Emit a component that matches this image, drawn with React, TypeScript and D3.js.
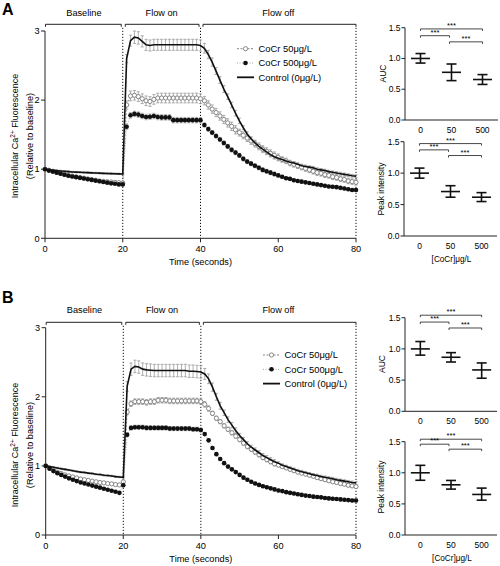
import React from 'react';
import * as d3 from 'd3';

// ---------- DATA ----------
const time = [
  0, 1, 2, 3, 4, 5, 6, 7, 8, 9, 10, 11, 12, 13, 14, 15, 16, 17, 18, 19,
  20, 21, 22, 23, 24, 25, 26, 27, 28, 29, 30, 31, 32, 33, 34, 35, 36, 37, 38, 39,
  40, 41, 42, 43, 44, 45, 46, 47, 48, 49, 50, 51, 52, 53, 54, 55, 56, 57, 58, 59,
  60, 61, 62, 63, 64, 65, 66, 67, 68, 69, 70, 71, 72, 73, 74, 75, 76, 77, 78, 79, 80,
];

const phases = [
  { label: 'Baseline', start: 0, end: 20 },
  { label: 'Flow on', start: 20, end: 40 },
  { label: 'Flow off', start: 40, end: 80 },
];
const phaseLines = [20, 40, 80];
const mainXTicks = [0, 20, 40, 60, 80];
const mainYTicks = [0, 1, 2, 3];
const barYTicks = [0, 0.5, 1, 1.5];
const categories = ['0', '50', '500'];
const seriesNames = ['CoCr 50\u03bcg/L', 'CoCr 500\u03bcg/L', 'Control (0\u03bcg/L)'];
const summaryXTitle = '[CoCr]\u03bcg/L';

// Panel A
const controlA = [
  1.0, 0.99, 0.985, 0.98, 0.975, 0.97, 0.965, 0.96, 0.958, 0.955,
  0.952, 0.95, 0.947, 0.945, 0.943, 0.94, 0.938, 0.936, 0.934, 0.932,
  0.93, 2.6, 2.86, 2.91, 2.9, 2.85, 2.8, 2.79, 2.8, 2.8,
  2.8, 2.8, 2.8, 2.8, 2.8, 2.8, 2.8, 2.8, 2.8, 2.8,
  2.79, 2.75, 2.66, 2.55, 2.42, 2.29, 2.16, 2.05, 1.93, 1.81,
  1.7, 1.6, 1.51, 1.44, 1.38, 1.33, 1.29, 1.25, 1.21, 1.18,
  1.16, 1.14, 1.12, 1.1, 1.09, 1.07, 1.05, 1.04, 1.03, 1.02,
  1.0, 0.99, 0.98, 0.965, 0.955, 0.945, 0.935, 0.925, 0.915, 0.905,
  0.9,
];
const cocr50A = [
  1.0, 0.985, 0.97, 0.955, 0.94, 0.925, 0.91, 0.9, 0.89, 0.88,
  0.87, 0.86, 0.85, 0.84, 0.83, 0.825, 0.82, 0.815, 0.81, 0.805,
  0.8, 1.93, 2.06, 2.07, 2.05, 2.02, 1.99, 1.98, 2.01, 2.03,
  2.03, 2.03, 2.03, 2.03, 2.03, 2.03, 2.03, 2.03, 2.03, 2.03,
  2.02, 1.99, 1.93, 1.87, 1.82, 1.77, 1.72, 1.67, 1.62, 1.57,
  1.53, 1.49, 1.45, 1.41, 1.37, 1.33, 1.29, 1.26, 1.23, 1.2,
  1.17, 1.14, 1.12, 1.09, 1.07, 1.05, 1.03, 1.01, 0.99, 0.97,
  0.95, 0.94, 0.92, 0.91, 0.89, 0.88, 0.86, 0.85, 0.83, 0.82,
  0.81,
];
const cocr500A = [
  1.0, 0.98, 0.965, 0.95, 0.935, 0.92, 0.905, 0.895, 0.885, 0.875,
  0.865, 0.855, 0.845, 0.835, 0.825, 0.815, 0.805, 0.795, 0.79, 0.78,
  0.78, 1.615, 1.78, 1.8, 1.79, 1.77, 1.755, 1.76, 1.77, 1.755,
  1.75, 1.75, 1.75, 1.71, 1.71, 1.71, 1.71, 1.71, 1.71, 1.71,
  1.71, 1.64, 1.58, 1.53, 1.48, 1.43, 1.38, 1.33, 1.28, 1.24,
  1.2, 1.15, 1.11, 1.08, 1.05, 1.02, 0.99, 0.97, 0.95, 0.93,
  0.91, 0.89, 0.87, 0.86, 0.84, 0.83, 0.82, 0.81, 0.8, 0.79,
  0.78, 0.77, 0.76, 0.75, 0.745, 0.74, 0.73, 0.72, 0.71, 0.7,
  0.7,
];
const errControlA = [
  0, .01, .01, .01, .01, .01, .01, .01, .01, .01,
  .01, .01, .01, .01, .01, .01, .01, .01, .01, .01,
  .01, .06, .08, .09, .09, .08, .08, .08, .08, .08,
  .08, .08, .08, .08, .08, .08, .08, .08, .08, .08,
  .08, .07, .06, .06, .05, .05, .05, .04, .04, .04,
  .04, .03, .03, .03, .03, .03, .03, .03, .03, .03,
  .03, .02, .02, .02, .02, .02, .02, .02, .02, .02,
  .02, .02, .02, .02, .02, .02, .02, .02, .02, .02,
  .02,
];
const err50A = [
  0, .01, .01, .01, .01, .01, .01, .01, .01, .01,
  .01, .01, .01, .01, .01, .01, .01, .01, .01, .01,
  .02, .06, .07, .07, .07, .07, .07, .07, .07, .07,
  .07, .07, .07, .07, .07, .07, .07, .07, .07, .07,
  .07, .06, .06, .06, .06, .06, .06, .06, .06, .06,
  .05, .05, .05, .05, .05, .05, .05, .05, .05, .05,
  .05, .04, .04, .04, .04, .04, .04, .04, .04, .04,
  .04, .04, .04, .04, .04, .04, .04, .04, .04, .04,
  .04,
];
const err500A = [
  0, .01, .01, .01, .01, .01, .01, .01, .01, .01,
  .01, .01, .01, .01, .01, .01, .01, .01, .01, .01,
  .02, .04, .04, .04, .04, .04, .04, .04, .04, .04,
  .04, .04, .04, .04, .04, .04, .04, .04, .04, .04,
  .04, .03, .03, .03, .03, .03, .03, .03, .03, .03,
  .03, .03, .03, .03, .03, .03, .03, .03, .03, .03,
  .02, .02, .02, .02, .02, .02, .02, .02, .02, .02,
  .02, .02, .02, .02, .02, .02, .02, .02, .02, .02,
  .02,
];

// Panel B
const controlB = [
  1.0, 0.99, 0.98, 0.97, 0.96, 0.95, 0.94, 0.93, 0.92, 0.91,
  0.905, 0.895, 0.89, 0.88, 0.875, 0.865, 0.86, 0.855, 0.845, 0.84,
  0.835, 2.15, 2.4, 2.44, 2.43, 2.4, 2.39, 2.385, 2.38, 2.38,
  2.38, 2.38, 2.38, 2.38, 2.38, 2.38, 2.38, 2.37, 2.37, 2.365,
  2.36, 2.33, 2.26, 2.14, 2.0, 1.87, 1.77, 1.67, 1.59, 1.51,
  1.44, 1.38, 1.32, 1.27, 1.23, 1.19, 1.15, 1.12, 1.09, 1.06,
  1.04, 1.01, 0.99, 0.97, 0.95, 0.93, 0.915, 0.9, 0.885, 0.87,
  0.86, 0.845, 0.835, 0.825, 0.815, 0.8, 0.79, 0.78, 0.77, 0.76,
  0.755,
];
const cocr50B = [
  1.0, 0.965, 0.935, 0.91, 0.89, 0.87, 0.855, 0.84, 0.825, 0.81,
  0.8, 0.79, 0.78, 0.77, 0.76, 0.755, 0.745, 0.74, 0.73, 0.725,
  0.77, 1.78, 1.9, 1.93, 1.93, 1.93, 1.92, 1.93, 1.93, 1.95,
  1.95, 1.95, 1.94, 1.94, 1.94, 1.94, 1.94, 1.94, 1.94, 1.94,
  1.93, 1.89, 1.83, 1.76, 1.69, 1.64, 1.58, 1.53, 1.48, 1.43,
  1.38, 1.33, 1.28, 1.24, 1.2, 1.16, 1.12, 1.09, 1.06, 1.03,
  1.01, 0.99, 0.97, 0.95, 0.93, 0.91, 0.895, 0.88, 0.865, 0.85,
  0.83, 0.815, 0.8, 0.785, 0.77, 0.76, 0.745, 0.735, 0.72, 0.71,
  0.7,
];
const cocr500B = [
  1.0, 0.96, 0.925, 0.895, 0.87, 0.845, 0.82, 0.8, 0.78, 0.76,
  0.745, 0.73, 0.715, 0.7, 0.685, 0.67, 0.655, 0.64, 0.625, 0.61,
  0.72, 1.45, 1.55, 1.56, 1.56, 1.56, 1.55, 1.55, 1.55, 1.55,
  1.55, 1.55, 1.54, 1.54, 1.54, 1.54, 1.54, 1.54, 1.53, 1.53,
  1.52, 1.46, 1.37, 1.26, 1.17, 1.1, 1.04, 0.99, 0.95, 0.91,
  0.87, 0.83, 0.8, 0.77, 0.745, 0.725, 0.705, 0.69, 0.675, 0.66,
  0.645, 0.635, 0.62, 0.61, 0.6, 0.59, 0.58, 0.57, 0.565, 0.555,
  0.55, 0.545, 0.535, 0.53, 0.525, 0.52, 0.515, 0.51, 0.505, 0.5,
  0.5,
];
const errControlB = [
  0, .01, .01, .01, .01, .01, .01, .01, .01, .01,
  .01, .01, .01, .01, .01, .01, .01, .01, .01, .01,
  .01, .07, .09, .09, .09, .09, .09, .09, .09, .09,
  .09, .09, .09, .09, .09, .09, .09, .09, .09, .09,
  .09, .08, .07, .06, .05, .05, .04, .04, .04, .04,
  .03, .03, .03, .03, .03, .03, .03, .03, .03, .03,
  .02, .02, .02, .02, .02, .02, .02, .02, .02, .02,
  .02, .02, .02, .02, .02, .02, .02, .02, .02, .02,
  .02,
];
const err50B = [
  0, .01, .01, .01, .01, .01, .01, .01, .01, .01,
  .01, .01, .01, .01, .01, .01, .01, .01, .01, .01,
  .02, .04, .04, .04, .04, .04, .04, .04, .04, .04,
  .04, .04, .04, .04, .04, .04, .04, .04, .04, .04,
  .04, .04, .04, .03, .03, .03, .03, .03, .03, .03,
  .03, .03, .03, .03, .03, .03, .03, .03, .03, .03,
  .02, .02, .02, .02, .02, .02, .02, .02, .02, .02,
  .02, .02, .02, .02, .02, .02, .02, .02, .02, .02,
  .02,
];
const err500B = [
  0, .01, .01, .01, .01, .01, .01, .01, .01, .01,
  .01, .01, .01, .01, .01, .01, .01, .01, .01, .01,
  .02, .03, .03, .03, .03, .03, .03, .03, .03, .03,
  .03, .03, .03, .03, .03, .03, .03, .03, .03, .03,
  .03, .02, .02, .02, .02, .02, .02, .02, .02, .02,
  .02, .02, .02, .02, .02, .02, .02, .02, .02, .02,
  .02, .02, .02, .02, .02, .02, .02, .02, .02, .02,
  .02, .02, .02, .02, .02, .02, .02, .02, .02, .02,
  .02,
];

// Summary panels: mean, lower and upper whisker
const aucAMean = [1.0, 0.775, 0.658];
const aucALow = [0.925, 0.64, 0.578];
const aucAHigh = [1.08, 0.91, 0.738];
const peakAMean = [1.0, 0.707, 0.617];
const peakALow = [0.92, 0.617, 0.548];
const peakAHigh = [1.08, 0.8, 0.69];
const aucBMean = [1.0, 0.866, 0.663];
const aucBLow = [0.9, 0.79, 0.53];
const aucBHigh = [1.118, 0.94, 0.775];
const peakBMean = [1.0, 0.807, 0.652];
const peakBLow = [0.88, 0.738, 0.56];
const peakBHigh = [1.12, 0.877, 0.754];
const sigLabels = ['***', '***', '***'];
// significance comparisons [from, to] and their levels in data units
const sigPairs = [[0, 2], [0, 1], [1, 2]];
const sigLevelsAucA = [1.48, 1.37, 1.27];
const sigLevelsPeakA = [1.47, 1.37, 1.28];
const sigLevelsAucB = [1.54, 1.43, 1.335];
const sigLevelsPeakB = [1.54, 1.46, 1.38];

// ---------- STYLE ----------
const FONT = "'Liberation Sans', Arial, Helvetica, sans-serif";
const AXIS = '#222';

type MainLayout = {
  label: string; labelY: number;
  x0: number; x1: number; yTop: number; yBottom: number;
  bracketY: number; headerY: number; titleCY: number;
  legendX: number; legendY: number;
};

function MainPanel({ L, ctrl, s50, s500, eCtrl, e50, e500 }: any) {
  const lay = L as MainLayout;
  const x = d3.scaleLinear().domain([0, 80]).range([lay.x0, lay.x1]);
  const y = d3.scaleLinear().domain([0, 3]).range([lay.yBottom, lay.yTop]);
  const line = d3.line<number>().x((_, i) => x(time[i])).y((d) => y(d));
  const errBars = (vals: number[], errs: number[], color: string, key: string) =>
    vals.map((v, i) => {
      const e = errs[i];
      if (!e) return null;
      const cx = x(time[i]);
      const y1 = y(v + e), y2 = y(v - e);
      return (
        <g key={key + i} stroke={color} strokeWidth={0.8}>
          <line x1={cx} x2={cx} y1={y1} y2={y2} />
          <line x1={cx - 1.6} x2={cx + 1.6} y1={y1} y2={y1} />
          <line x1={cx - 1.6} x2={cx + 1.6} y1={y2} y2={y2} />
        </g>
      );
    });
  const lx = lay.legendX, ly = lay.legendY, dyL = 14.3;
  return (
    <g>
      <text x={2} y={lay.labelY} fontFamily={FONT} fontWeight="bold" fontSize={16}>{lay.label}</text>
      {/* phase brackets */}
      {phases.map((p, i) => {
        const a = x(p.start) + (i === 0 ? 0.5 : 2.5);
        const b = p.end === 80 ? x(p.end) : x(p.end) - 1.5;
        return (
          <g key={p.label}>
            <path d={`M${a},${lay.bracketY + 2.5}V${lay.bracketY}H${b}V${lay.bracketY + 2.5}`}
              fill="none" stroke={AXIS} strokeWidth={1} />
            <text x={(x(p.start) + x(p.end)) / 2} y={lay.headerY} textAnchor="middle"
              fontFamily={FONT} fontSize={9.2}>{p.label}</text>
          </g>
        );
      })}
      {phaseLines.map((t) => (
        <line key={'pl' + t} x1={x(t)} x2={x(t)} y1={lay.bracketY + 3.5} y2={lay.yBottom}
          stroke="#111" strokeWidth={1} strokeDasharray="1.2,1.8" />
      ))}
      {/* axes */}
      <line x1={lay.x0} x2={lay.x0} y1={y(3)} y2={lay.yBottom} stroke={AXIS} strokeWidth={1} />
      <line x1={lay.x0} x2={lay.x1} y1={lay.yBottom} y2={lay.yBottom} stroke={AXIS} strokeWidth={1} />
      {mainYTicks.map((t) => (
        <g key={'yt' + t}>
          <line x1={lay.x0 - 4} x2={lay.x0} y1={y(t)} y2={y(t)} stroke={AXIS} />
          <text x={lay.x0 - 5.5} y={y(t)} dy="0.35em" textAnchor="end" fontFamily={FONT} fontSize={9.2}>{t}</text>
        </g>
      ))}
      {mainXTicks.map((t) => (
        <g key={'xt' + t}>
          <line x1={x(t)} x2={x(t)} y1={lay.yBottom} y2={lay.yBottom + 4} stroke={AXIS} />
          <text x={x(t)} y={lay.yBottom + 14} textAnchor="middle" fontFamily={FONT} fontSize={9.2}>{t}</text>
        </g>
      ))}
      <text x={(lay.x0 + lay.x1) / 2} y={lay.yBottom + 27} textAnchor="middle" fontFamily={FONT} fontSize={9.2}>Time (seconds)</text>
      <g transform={`translate(15,${lay.titleCY}) rotate(-90)`}>
        <text textAnchor="middle" dy="0.35em" fontFamily={FONT} fontSize={9}>
          Intracellular Ca<tspan dy={-3.2} fontSize={6.5}>2+</tspan><tspan dy={3.2}> Fluorescence</tspan>
        </text>
      </g>
      <g transform={`translate(29.5,${lay.titleCY}) rotate(-90)`}>
        <text textAnchor="middle" dy="0.35em" fontFamily={FONT} fontSize={9.2}>(Relative to baseline)</text>
      </g>
      {/* error bars */}
      {errBars(s50, e50, '#9a9a9a', 'e50')}
      {errBars(s500, e500, '#a8a8a8', 'e500')}
      {errBars(ctrl, eCtrl, '#9a9a9a', 'ec')}
      {/* CoCr 50 */}
      <path d={line(s50) || ''} fill="none" stroke="#888" strokeWidth={0.8} strokeDasharray="2,1.5" />
      {s50.map((v: number, i: number) => (
        <circle key={'c50' + i} cx={x(time[i])} cy={y(v)} r={2.1} fill="#fff" stroke="#7a7a7a" strokeWidth={0.9} />
      ))}
      {/* CoCr 500 */}
      <path d={line(s500) || ''} fill="none" stroke="#999" strokeWidth={0.8} strokeDasharray="1,1.5" />
      {s500.map((v: number, i: number) => (
        <circle key={'c500' + i} cx={x(time[i])} cy={y(v)} r={2.3} fill="#111" />
      ))}
      {/* Control */}
      <path d={line(ctrl) || ''} fill="none" stroke="#111" strokeWidth={1.6} />
      {/* legend */}
      <g fontFamily={FONT} fontSize={9.4}>
        <line x1={lx} x2={lx + 17} y1={ly} y2={ly} stroke="#777" strokeWidth={0.9} strokeDasharray="2,1.5" />
        <circle cx={lx + 8.5} cy={ly} r={2.1} fill="#fff" stroke="#7a7a7a" strokeWidth={0.9} />
        <text x={lx + 21.5} y={ly} dy="0.35em">{seriesNames[0]}</text>
        <line x1={lx} x2={lx + 17} y1={ly + dyL} y2={ly + dyL} stroke="#999" strokeWidth={0.9} strokeDasharray="1,1.5" />
        <circle cx={lx + 8.5} cy={ly + dyL} r={2.3} fill="#111" />
        <text x={lx + 21.5} y={ly + dyL} dy="0.35em">{seriesNames[1]}</text>
        <line x1={lx} x2={lx + 17} y1={ly + 2 * dyL} y2={ly + 2 * dyL} stroke="#111" strokeWidth={1.8} />
        <text x={lx + 21.5} y={ly + 2 * dyL} dy="0.35em">{seriesNames[2]}</text>
      </g>
    </g>
  );
}

function SummaryPanel({ x0, x1, yTop, yBottom, mean, low, high, levels, title, titleX, titleCY, showXTitle }: any) {
  const x = d3.scalePoint<string>().domain(categories).range([x0, x1]).padding(0.5);
  const y = d3.scaleLinear().domain([0, 1.5]).range([yBottom, yTop]);
  return (
    <g fontFamily={FONT}>
      <line x1={x0} x2={x0} y1={yTop} y2={yBottom} stroke={AXIS} />
      <line x1={x0} x2={x1} y1={yBottom} y2={yBottom} stroke={AXIS} />
      {barYTicks.map((t) => (
        <g key={'by' + t}>
          <line x1={x0 - 3.5} x2={x0} y1={y(t)} y2={y(t)} stroke={AXIS} />
          <text x={x0 - 4.5} y={y(t)} dy="0.35em" textAnchor="end" fontSize={8.5}>{t.toFixed(1)}</text>
        </g>
      ))}
      {categories.map((c) => (
        <text key={'bx' + c} x={x(c)} y={yBottom + 12.5} textAnchor="middle" fontSize={8.5}>{c}</text>
      ))}
      <g transform={`translate(${titleX},${titleCY}) rotate(-90)`}>
        <text textAnchor="middle" dy="0.35em" fontSize={8.5}>{title}</text>
      </g>
      {showXTitle && (
        <text x={(x0 + x1) / 2 + 1} y={yBottom + 25.5} textAnchor="middle" fontSize={8.2}>{summaryXTitle}</text>
      )}
      {categories.map((c, i) => {
        const cx = x(c) as number;
        return (
          <g key={'m' + c} stroke="#111" strokeWidth={1.6}>
            <line x1={cx} x2={cx} y1={y(high[i])} y2={y(low[i])} />
            <line x1={cx - 5} x2={cx + 5} y1={y(high[i])} y2={y(high[i])} />
            <line x1={cx - 5} x2={cx + 5} y1={y(low[i])} y2={y(low[i])} />
            <line x1={cx - 9.5} x2={cx + 9.5} y1={y(mean[i])} y2={y(mean[i])} />
          </g>
        );
      })}
      {sigPairs.map((p, k) => {
        const a = (x(categories[p[0]]) as number) + (p[0] === 1 ? -2 : 0);
        const b = (x(categories[p[1]]) as number) + (p[1] === 1 ? -2 : 0);
        const yy = y(levels[k]);
        return (
          <g key={'s' + k}>
            <path d={`M${a},${yy + 2}V${yy}H${b}V${yy + 2}`} fill="none" stroke="#333" strokeWidth={0.9} />
            <text x={(a + b) / 2} y={yy - 1} textAnchor="middle" fontSize={7.5}>{sigLabels[k]}</text>
          </g>
        );
      })}
    </g>
  );
}

const layoutA: MainLayout = {
  label: 'A', labelY: 15, x0: 45, x1: 356, yTop: 31, yBottom: 238.3,
  bracketY: 24.3, headerY: 15.5, titleCY: 136, legendX: 237, legendY: 48.7,
};
const layoutB: MainLayout = {
  label: 'B', labelY: 302.5, x0: 45.7, x1: 356, yTop: 327.7, yBottom: 535,
  bracketY: 322.3, headerY: 312.5, titleCY: 445, legendX: 263, legendY: 355,
};

export default function App() {
  return (
    <svg width={500} height={566} style={{ position: 'absolute', left: 0, top: 0, background: '#fff' }}>
      <rect width={500} height={566} fill="#fff" />
      <MainPanel L={layoutA} ctrl={controlA} s50={cocr50A} s500={cocr500A}
        eCtrl={errControlA} e50={err50A} e500={err500A} />
      <MainPanel L={layoutB} ctrl={controlB} s50={cocr50B} s500={cocr500B}
        eCtrl={errControlB} e50={err50B} e500={err500B} />
      <SummaryPanel x0={405} x1={498} yTop={27.7} yBottom={120} mean={aucAMean} low={aucALow} high={aucAHigh}
        levels={sigLevelsAucA} title="AUC" titleX={383} titleCY={73.5} showXTitle={false} />
      <SummaryPanel x0={404} x1={497} yTop={141.7} yBottom={236} mean={peakAMean} low={peakALow} high={peakAHigh}
        levels={sigLevelsPeakA} title="Peak intensity" titleX={381} titleCY={189} showXTitle={true} />
      <SummaryPanel x0={405} x1={497} yTop={317.7} yBottom={411.3} mean={aucBMean} low={aucBLow} high={aucBHigh}
        levels={sigLevelsAucB} title="AUC" titleX={382} titleCY={364} showXTitle={false} />
      <SummaryPanel x0={405} x1={497} yTop={441.7} yBottom={535} mean={peakBMean} low={peakBLow} high={peakBHigh}
        levels={sigLevelsPeakB} title="Peak intensity" titleX={381} titleCY={487} showXTitle={true} />
    </svg>
  );
}
